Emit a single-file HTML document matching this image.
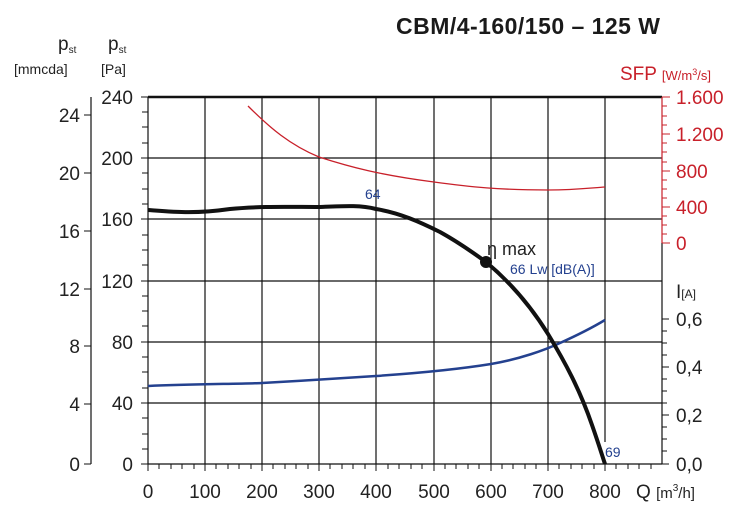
<!DOCTYPE html>
<html><head><meta charset="utf-8"><style>
body{margin:0;background:#fff}
svg{display:block;font-family:"Liberation Sans",Arial,sans-serif}
</style></head><body>
<svg width="744" height="524" viewBox="0 0 744 524" xmlns="http://www.w3.org/2000/svg">
<rect width="744" height="524" fill="#fff"/>
<text x="396" y="34" font-size="23" font-weight="bold" fill="#1a1a1a" textLength="264">CBM/4-160/150 – 125 W</text>
<!-- grid -->
<g stroke="#111" stroke-width="1.2">
<line x1="148" y1="158" x2="662" y2="158"/>
<line x1="148" y1="219" x2="662" y2="219"/>
<line x1="148" y1="281" x2="662" y2="281"/>
<line x1="148" y1="342" x2="662" y2="342"/>
<line x1="148" y1="403" x2="662" y2="403"/>
<line x1="205" y1="97" x2="205" y2="464"/>
<line x1="262" y1="97" x2="262" y2="464"/>
<line x1="319" y1="97" x2="319" y2="464"/>
<line x1="376" y1="97" x2="376" y2="464"/>
<line x1="434" y1="97" x2="434" y2="464"/>
<line x1="491" y1="97" x2="491" y2="464"/>
<line x1="548" y1="97" x2="548" y2="464"/>
<line x1="605" y1="97" x2="605" y2="442"/>
<line x1="148" y1="97" x2="148" y2="464"/>
<line x1="148" y1="464" x2="662" y2="464"/>
<line x1="91" y1="97" x2="91" y2="464"/>
<line x1="662" y1="243" x2="662" y2="464"/>
</g>
<line x1="148" y1="97" x2="662" y2="97" stroke="#111" stroke-width="2.5"/>
<line x1="662" y1="97" x2="662" y2="243" stroke="#c8202a" stroke-width="1.2"/>
<!-- ticks -->
<g stroke="#111" stroke-width="1">
<path d="M141 97h7M142 112h6M142 127h6M142 143h6M141 158h7M142 173h6M142 189h6M142 204h6M141 219h7M142 235h6M142 250h6M142 265h6M141 281h7M142 296h6M142 311h6M142 326h6M141 342h7M142 357h6M142 372h6M142 388h6M141 403h7M142 418h6M142 434h6M142 449h6M141 464h7"/>
<path d="M84 115h7M84 173h7M84 231h7M84 289h7M84 346h7M84 404h7M84 464h7"/>
<path d="M148 464v7M159 464v5M171 464v5M182 464v5M194 464v5M205 464v7M216 464v5M228 464v5M239 464v5M251 464v5M262 464v7M273 464v5M285 464v5M296 464v5M308 464v5M319 464v7M330 464v5M342 464v5M353 464v5M365 464v5M376 464v7M388 464v5M399 464v5M411 464v5M422 464v5M434 464v7M445 464v5M456 464v5M468 464v5M479 464v5M491 464v7M502 464v5M513 464v5M525 464v5M536 464v5M548 464v7M559 464v5M571 464v5M582 464v5M594 464v5M605 464v7M616 464v5M628 464v5M639 464v5M651 464v5"/>
<path d="M662 319h7M662 331h5M662 343h5M662 355h5M662 367h7M662 379h5M662 391h5M662 403h5M662 415h7M662 427h5M662 439h5M662 451h5M662 464h7"/>
</g>
<g stroke="#c8202a" stroke-width="1">
<path d="M662 97h8M662 106h5M662 116h5M662 125h5M662 134h8M662 143h5M662 152h5M662 162h5M662 171h8M662 180h5M662 189h5M662 198h5M662 207h8M662 216h5M662 225h5M662 234h5M662 243h8"/>
</g>
<!-- labels -->
<g font-size="19" fill="#222">
<g text-anchor="end">
<text x="133" y="104">240</text><text x="133" y="165">200</text><text x="133" y="226">160</text><text x="133" y="288">120</text><text x="133" y="349">80</text><text x="133" y="410">40</text><text x="133" y="471">0</text>
<text x="80" y="122">24</text><text x="80" y="180">20</text><text x="80" y="238">16</text><text x="80" y="296">12</text><text x="80" y="353">8</text><text x="80" y="411">4</text><text x="80" y="471">0</text>
</g>
<g text-anchor="middle">
<text x="148" y="498">0</text><text x="205" y="498">100</text><text x="262" y="498">200</text><text x="319" y="498">300</text><text x="376" y="498">400</text><text x="434" y="498">500</text><text x="491" y="498">600</text><text x="548" y="498">700</text><text x="605" y="498">800</text>
</g>
<text x="676" y="326">0,6</text><text x="676" y="374">0,4</text><text x="676" y="422">0,2</text><text x="676" y="471">0,0</text>
<text x="676" y="298">I<tspan font-size="12">[A]</tspan></text>
<text x="636" y="498">Q <tspan font-size="15">[m<tspan font-size="10" dy="-7">3</tspan><tspan dy="7">/h]</tspan></tspan></text>
<text x="58" y="50">p<tspan font-size="10" dy="3">st</tspan></text>
<text x="108" y="50">p<tspan font-size="10" dy="3">st</tspan></text>
<text x="14" y="74" font-size="14">[mmcda]</text>
<text x="101" y="74" font-size="14">[Pa]</text>
</g>
<g font-size="19" fill="#c8202a">
<text x="676" y="104">1.600</text><text x="676" y="141">1.200</text><text x="676" y="178">800</text><text x="676" y="214">400</text><text x="676" y="250">0</text>
<text x="620" y="80">SFP <tspan font-size="13">[W/m<tspan font-size="9" dy="-5">3</tspan><tspan dy="5">/s]</tspan></tspan></text>
</g>
<!-- curves -->
<path d="M248 106 C270 128 290 145 319 157 C350 167 380 175 434 182 C470 187 500 190 548 190 C575 190 590 188 605 187" fill="none" stroke="#c8202a" stroke-width="1.3"/>
<path d="M148 386 C190 384 240 384 262 383 C300 381 340 378 376 376 C420 373 460 369 491 364 C520 359 545 350 560 343 C580 334 595 326 605 320" fill="none" stroke="#24418f" stroke-width="2.5"/>
<path d="M148 210 C175 212 195 214 230 209 C260 206 290 207 319 207 C345 206 360 205 376 209 C400 213 420 222 440 232 C460 243 475 254 486 262 C510 282 530 305 548 334 C565 362 580 390 592 425 C598 442 602 455 605 464" fill="none" stroke="#111" stroke-width="4"/>
<circle cx="486" cy="262" r="6" fill="#111"/>
<text x="487" y="255" font-size="18" fill="#222">η max</text>
<g font-size="14" fill="#24418f">
<text x="365" y="199">64</text>
<text x="510" y="274">66 Lw [dB(A)]</text>
<text x="605" y="457">69</text>
</g>
</svg>
</body></html>
